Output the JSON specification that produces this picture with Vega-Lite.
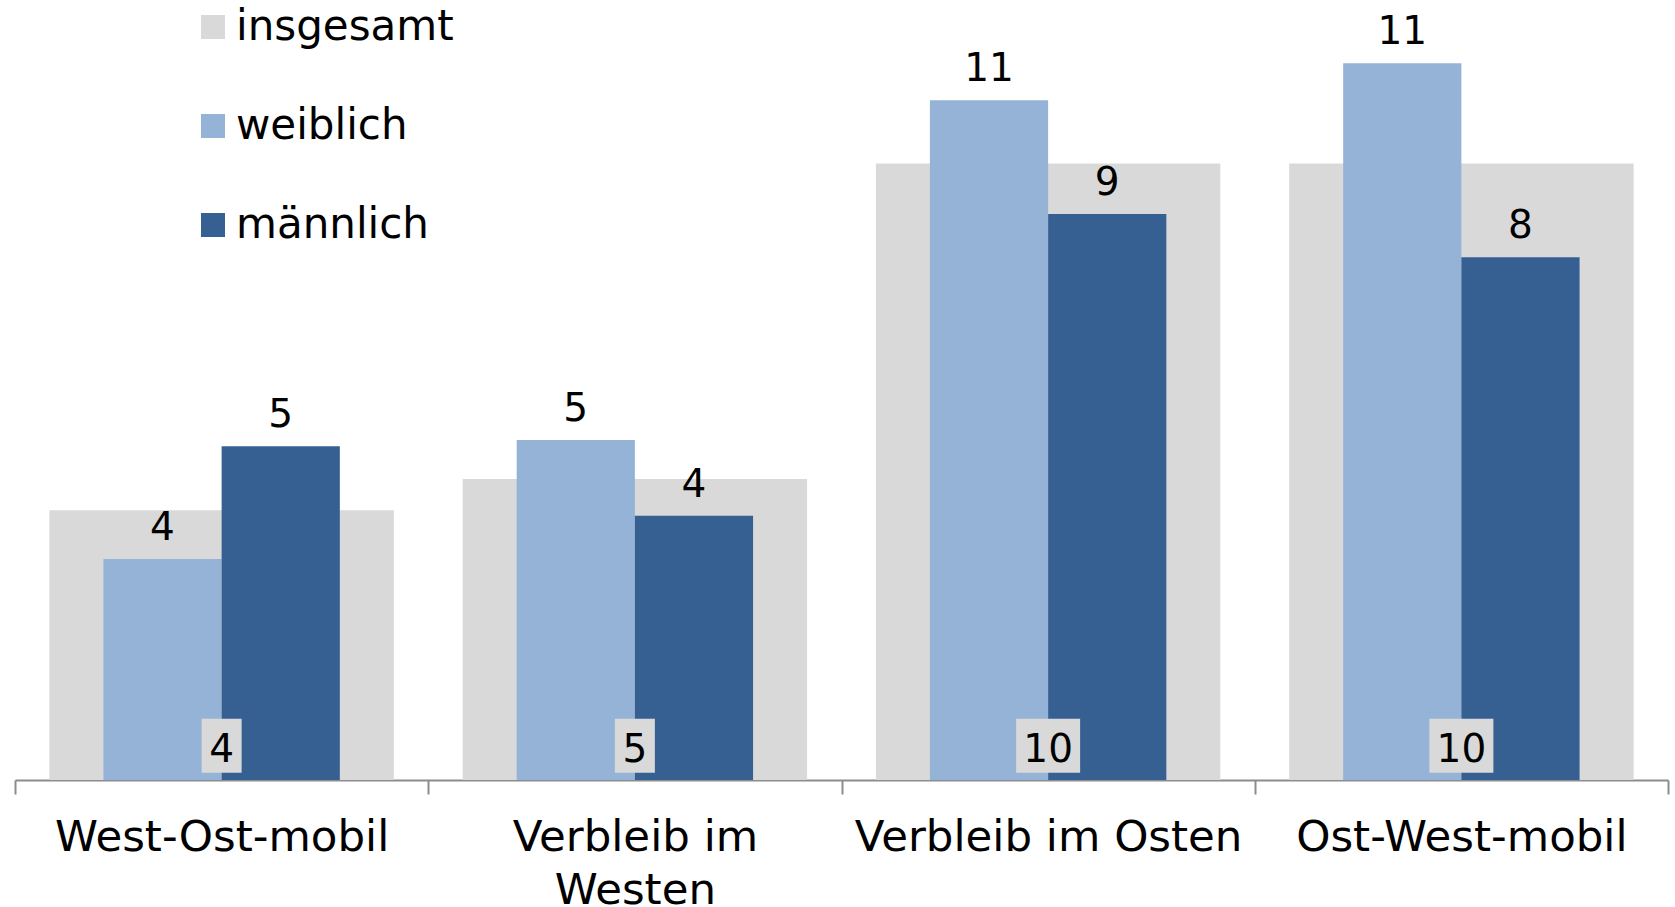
{
  "$schema": "https://vega.github.io/schema/vega-lite/v6.json",
  "autosize": {"type": "none"},
  "width": 1653,
  "height": 780,
  "padding": {"left": 15, "top": 0, "right": 7, "bottom": 127},
  "background": "white",
  "config": {
    "font": "DejaVu Sans",
    "view": {"stroke": null}
  },
  "data": {
    "values": [
      {"Kategorie": "West-Ost-mobil", "Gruppe": "insgesamt", "Wert": 4.31},
      {"Kategorie": "West-Ost-mobil", "Gruppe": "weiblich", "Wert": 3.53},
      {"Kategorie": "West-Ost-mobil", "Gruppe": "männlich", "Wert": 5.33},
      {"Kategorie": "Verbleib im Westen", "Gruppe": "insgesamt", "Wert": 4.81},
      {"Kategorie": "Verbleib im Westen", "Gruppe": "weiblich", "Wert": 5.43},
      {"Kategorie": "Verbleib im Westen", "Gruppe": "männlich", "Wert": 4.22},
      {"Kategorie": "Verbleib im Osten", "Gruppe": "insgesamt", "Wert": 9.85},
      {"Kategorie": "Verbleib im Osten", "Gruppe": "weiblich", "Wert": 10.86},
      {"Kategorie": "Verbleib im Osten", "Gruppe": "männlich", "Wert": 9.04},
      {"Kategorie": "Ost-West-mobil", "Gruppe": "insgesamt", "Wert": 9.85},
      {"Kategorie": "Ost-West-mobil", "Gruppe": "weiblich", "Wert": 11.45},
      {"Kategorie": "Ost-West-mobil", "Gruppe": "männlich", "Wert": 8.35}
    ]
  },
  "encoding": {
    "x": {
      "field": "Kategorie",
      "type": "nominal",
      "sort": ["West-Ost-mobil", "Verbleib im Westen", "Verbleib im Osten", "Ost-West-mobil"],
      "scale": {"paddingInner": 0, "paddingOuter": 0},
      "axis": {
        "title": null,
        "labelAngle": 0,
        "labelFont": "DejaVu Sans",
        "labelFontSize": 43.5,
        "labelColor": "black",
        "labelPadding": 22,
        "labelLineHeight": 53,
        "labelLimit": 500,
        "labelExpr": "datum.label == 'Verbleib im Westen' ? ['Verbleib im', 'Westen'] : datum.label",
        "domainColor": "#8c8c8c",
        "domainWidth": 2,
        "tickColor": "#8c8c8c",
        "tickWidth": 2,
        "tickSize": 14,
        "tickBand": "extent"
      }
    }
  },
  "layer": [
    {
      "transform": [{"filter": "datum.Gruppe == 'insgesamt'"}],
      "mark": {"type": "bar", "width": {"band": 0.8335}},
      "encoding": {
        "y": {
          "field": "Wert",
          "type": "quantitative",
          "scale": {"domain": [0, 12.46], "nice": false},
          "axis": null
        },
        "color": {
          "field": "Gruppe",
          "type": "nominal",
          "scale": {
            "domain": ["insgesamt", "weiblich", "männlich"],
            "range": ["#d9d9d9", "#95b3d7", "#366092"]
          },
          "legend": {
            "title": null,
            "orient": "none",
            "legendX": 177,
            "legendY": 6,
            "padding": 0,
            "symbolType": "square",
            "symbolSize": 576,
            "symbolStrokeWidth": 0,
            "labelFont": "DejaVu Sans",
            "labelFontSize": 42,
            "labelColor": "black",
            "labelOffset": 2,
            "rowPadding": 57,
            "labelLimit": 400
          }
        }
      }
    },
    {
      "transform": [{"filter": "datum.Gruppe != 'insgesamt'"}],
      "mark": {"type": "bar"},
      "encoding": {
        "y": {"field": "Wert", "type": "quantitative"},
        "xOffset": {
          "field": "Gruppe",
          "type": "nominal",
          "scale": {"domain": ["weiblich", "männlich"], "paddingInner": 0, "paddingOuter": 0.748}
        },
        "color": {"field": "Gruppe", "type": "nominal"}
      }
    },
    {
      "transform": [{"filter": "datum.Gruppe != 'insgesamt'"}],
      "mark": {"type": "text", "fontSize": 39, "baseline": "alphabetic", "dy": -19, "color": "black"},
      "encoding": {
        "y": {"field": "Wert", "type": "quantitative"},
        "xOffset": {"field": "Gruppe", "type": "nominal"},
        "text": {"field": "Wert", "type": "quantitative", "format": ".0f"}
      }
    },
    {
      "transform": [{"filter": "datum.Gruppe == 'insgesamt'"}],
      "mark": {"type": "bar", "color": "#d9d9d9"},
      "encoding": {
        "y": {"datum": 0.98},
        "y2": {"datum": 0.115},
        "size": {
          "field": "Wert",
          "type": "quantitative",
          "scale": {"type": "threshold", "domain": [9.5], "range": [40, 64]},
          "legend": null
        }
      }
    },
    {
      "transform": [{"filter": "datum.Gruppe == 'insgesamt'"}],
      "mark": {"type": "text", "fontSize": 39, "baseline": "alphabetic", "dy": -18, "color": "black"},
      "encoding": {
        "y": {"datum": 0},
        "text": {"field": "Wert", "type": "quantitative", "format": ".0f"}
      }
    }
  ]
}
